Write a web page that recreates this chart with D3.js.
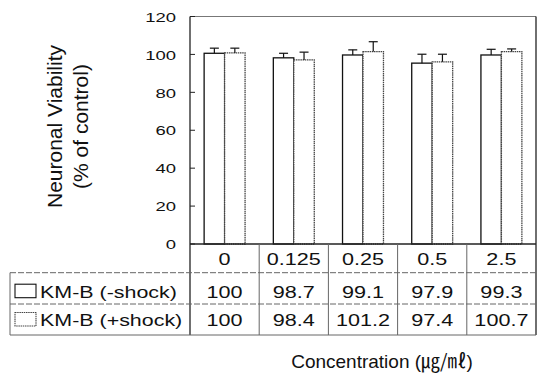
<!DOCTYPE html>
<html><head><meta charset="utf-8">
<script src="https://cdn.jsdelivr.net/npm/d3@7"></script>
<style>
html,body{margin:0;padding:0;background:#fff;}
svg{display:block;}
text{font-family:"Liberation Sans",Arial,Helvetica,sans-serif;fill:#111;}
</style></head>
<body>
<svg id="chart" width="541" height="376"></svg>
<script>
const concentrations = ["0", "0.125", "0.25", "0.5", "2.5"];
const seriesNames = ["KM-B (-shock)", "KM-B (+shock)"];
const barMinus = [100.6, 98.2, 99.7, 95.4, 99.7];
const barPlus = [100.8, 97.1, 101.5, 96.1, 101.5];
const errMinus = [2.7, 2.4, 2.7, 4.7, 3.0];
const errPlus = [2.5, 4.1, 5.2, 4.0, 1.4];
const tableMinus = ["100", "98.7", "99.1", "97.9", "99.3"];
const tablePlus = ["100", "98.4", "101.2", "97.4", "100.7"];
const yTicks = [0, 20, 40, 60, 80, 100, 120];

const svg = d3.select("#chart");
const L = 190, R = 536, T = 16.5, B = 244;
const rowHead = 272.7, row1 = 304, row2 = 335, legL = 10;

const x0 = d3.scaleBand().domain(concentrations).range([L, R]).paddingInner(0).paddingOuter(0);
const x1 = d3.scaleBand().domain(seriesNames).range([0, x0.bandwidth()]).paddingInner(0).paddingOuter(0.69);
const y = d3.scaleLinear().domain([0, 120]).range([B, T]);

function stretch(sel, k) {
  sel.each(function () {
    const len = this.getComputedTextLength();
    d3.select(this).attr("textLength", len * k).attr("lengthAdjust", "spacingAndGlyphs");
  });
}

// plot frame
svg.append("line").attr("x1", L).attr("x2", R).attr("y1", y(120)).attr("y2", y(120)).attr("stroke", "#777").attr("stroke-width", 1);
svg.append("line").attr("x1", R).attr("x2", R).attr("y1", y(120)).attr("y2", row2).attr("stroke", "#222").attr("stroke-width", 1.3);

// y axis
const yAxis = d3.axisLeft(y).tickValues(yTicks).tickSize(0).tickPadding(14);
const gy = svg.append("g").attr("transform", `translate(${L},0)`).call(yAxis);
gy.select(".domain").remove();
gy.selectAll("text").attr("font-size", 13).attr("font-family", "Liberation Sans, Arial, sans-serif").attr("fill", "#111").attr("dy", "0.36em");
stretch(gy.selectAll("text"), 1.42);
svg.append("g").selectAll("line").data(yTicks).join("line")
  .attr("x1", L).attr("x2", L + 5).attr("y1", d => y(d)).attr("y2", d => y(d))
  .attr("stroke", "#222").attr("stroke-width", 1);
svg.append("line").attr("x1", L).attr("x2", L).attr("y1", y(120)).attr("y2", row2).attr("stroke", "#222").attr("stroke-width", 1.3);

// y title
svg.append("text").attr("transform", "translate(62,126.5) rotate(-90)").attr("text-anchor", "middle")
  .attr("font-size", 21).text("Neuronal Viability");
svg.append("text").attr("transform", "translate(88,126.5) rotate(-90)").attr("text-anchor", "middle")
  .attr("font-size", 21).text("(% of control)");

// bars
const seriesVals = [barMinus, barPlus];
const seriesErr = [errMinus, errPlus];
const strokes = ["#111", "#444"];
const dashes = [null, "1.5,0.7"];
seriesNames.forEach((s, si) => {
  const g = svg.append("g");
  g.selectAll("rect").data(concentrations).join("rect")
    .attr("x", c => x0(c) + x1(s))
    .attr("y", (c, i) => y(seriesVals[si][i]))
    .attr("width", x1.bandwidth())
    .attr("height", (c, i) => y(0) - y(seriesVals[si][i]))
    .attr("fill", "#fff").attr("stroke", strokes[si]).attr("stroke-width", 1.3)
    .attr("stroke-dasharray", dashes[si]);
  g.selectAll("line.e").data(concentrations).join("line").attr("class", "e")
    .attr("x1", c => x0(c) + x1(s) + x1.bandwidth() / 2)
    .attr("x2", c => x0(c) + x1(s) + x1.bandwidth() / 2)
    .attr("y1", (c, i) => y(seriesVals[si][i]))
    .attr("y2", (c, i) => y(seriesVals[si][i] + seriesErr[si][i]))
    .attr("stroke", "#111").attr("stroke-width", 1.2);
  g.selectAll("line.c").data(concentrations).join("line").attr("class", "c")
    .attr("x1", c => x0(c) + x1(s) + x1.bandwidth() / 2 - 4.5)
    .attr("x2", c => x0(c) + x1(s) + x1.bandwidth() / 2 + 4.5)
    .attr("y1", (c, i) => y(seriesVals[si][i] + seriesErr[si][i]))
    .attr("y2", (c, i) => y(seriesVals[si][i] + seriesErr[si][i]))
    .attr("stroke", "#111").attr("stroke-width", 1.2);
});

// x baseline
svg.append("line").attr("x1", L).attr("x2", R).attr("y1", B).attr("y2", B).attr("stroke", "#222").attr("stroke-width", 1.3);

// table grid
const tbl = svg.append("g").attr("stroke", "#666").attr("stroke-width", 1);
concentrations.slice(1).forEach(c => {
  tbl.append("line").attr("x1", x0(c)).attr("x2", x0(c)).attr("y1", B).attr("y2", row2);
});
tbl.append("line").attr("x1", legL).attr("x2", R).attr("y1", rowHead).attr("y2", rowHead).attr("stroke-dasharray", "6,2");
tbl.append("line").attr("x1", legL).attr("x2", R).attr("y1", row1).attr("y2", row1).attr("stroke-dasharray", "6,2");
tbl.append("line").attr("x1", legL).attr("x2", R).attr("y1", row2).attr("y2", row2);
tbl.append("line").attr("x1", legL).attr("x2", legL).attr("y1", rowHead).attr("y2", row2);

// header row
const hdr = svg.append("g").selectAll("text").data(concentrations).join("text")
  .attr("x", c => x0(c) + x0.bandwidth() / 2).attr("y", 265)
  .attr("text-anchor", "middle").attr("font-size", 17).text(c => c);
stretch(hdr, 1.27);

// rows
const tableRows = [tableMinus, tablePlus];
const rowBase = [297.7, 326];
tableRows.forEach((vals, ri) => {
  const t = svg.append("g").selectAll("text").data(concentrations).join("text")
    .attr("x", c => x0(c) + x0.bandwidth() / 2).attr("y", rowBase[ri])
    .attr("text-anchor", "middle").attr("font-size", 17).text((c, i) => vals[i]);
  stretch(t, 1.27);
  svg.append("rect").attr("x", 15).attr("y", rowBase[ri] - 13.5).attr("width", 21).attr("height", 13.5)
    .attr("fill", "#fff").attr("stroke", strokes[ri]).attr("stroke-width", 1.1)
    .attr("stroke-dasharray", dashes[ri]);
  const lt = svg.append("text").attr("x", 40).attr("y", rowBase[ri]).attr("font-size", 17).text(seriesNames[ri]);
  stretch(lt, 1.26);
});

// x title
const xt = svg.append("text").attr("x", 382).attr("y", 368).attr("text-anchor", "middle").attr("font-size", 19);
xt.append("tspan").text("Concentration (");
xt.append("tspan").attr("font-family", "Noto Sans CJK KR").text("㎍/㎖");
xt.append("tspan").text(")");
</script>
</body></html>
